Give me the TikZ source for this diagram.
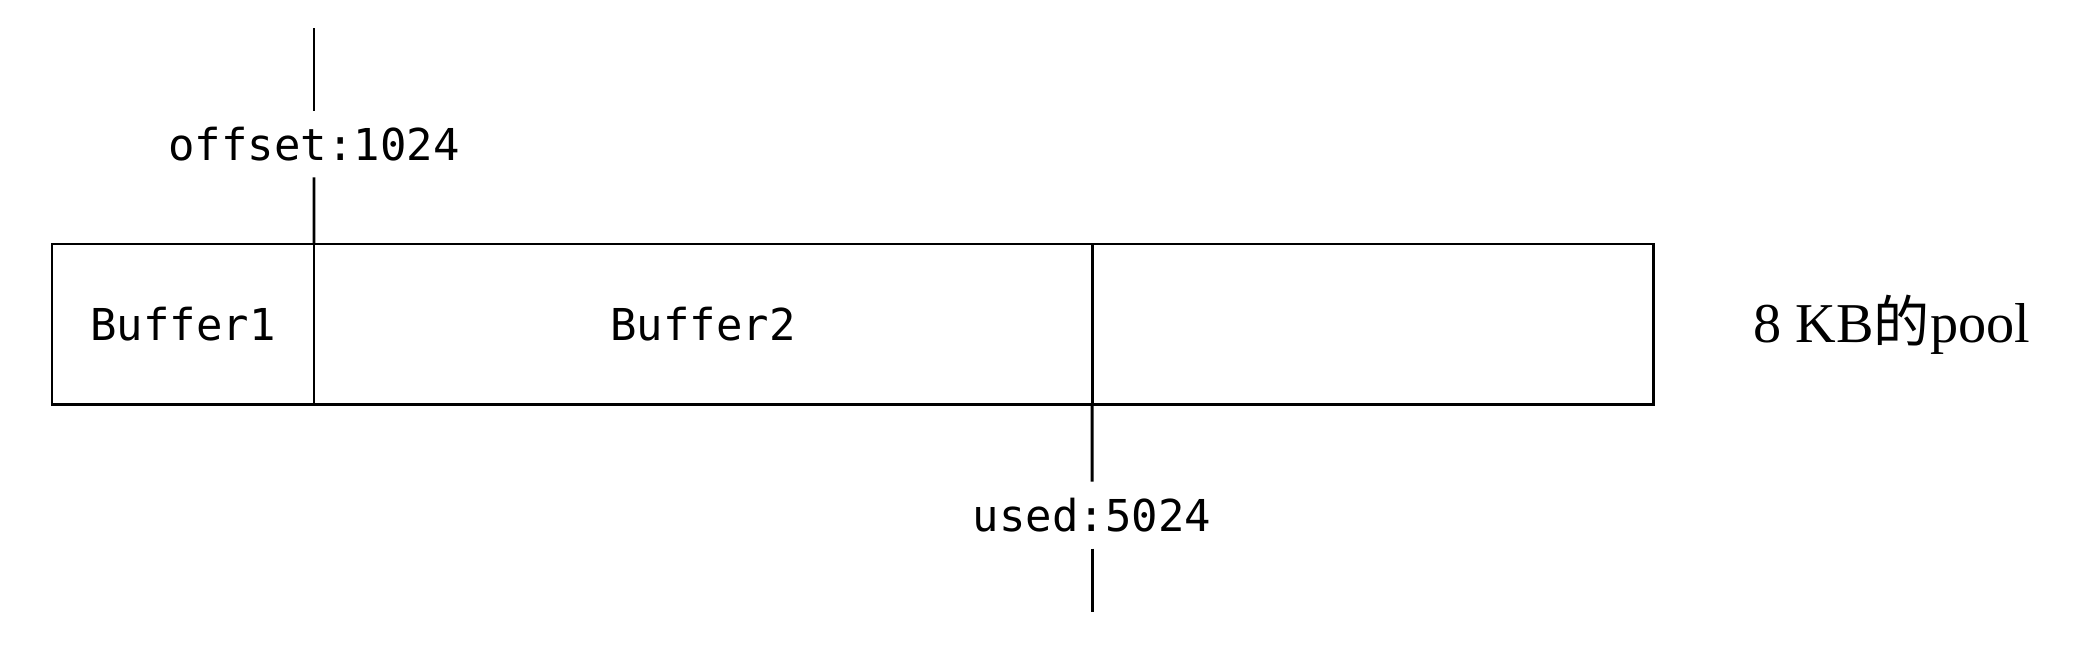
\documentclass[tikz,border=0pt]{standalone}
\usepackage{fontspec}
\setmainfont{Liberation Serif}
\setmonofont{DejaVu Sans Mono}
\newfontfamily\cjk{Noto Sans CJK SC}
\usetikzlibrary{positioning}

\begin{document}
\begin{tikzpicture}[line width=0.85pt]
\tikzstyle{every node}=[font=\ttfamily\fontsize{12.5}{15}\selectfont]
\tikzstyle{cell}=[draw,minimum height=1.6cm,inner sep=0pt,outer sep=0pt]
\tikzstyle{ptrlabel}=[inner sep=0pt,minimum height=0.64cm]
\useasboundingbox (0,0) rectangle (20.84,6.66);

\node[cell,minimum width=2.62cm] (b1) at (1.83,3.42) {Buffer1};
\node[cell,minimum width=7.78cm,right=0pt of b1] (b2) {Buffer2};
\node[cell,minimum width=5.61cm,right=0pt of b2] (b3) {};

\node[inner sep=0pt,anchor=base west] (pool) at (17.52,3.24)
  {\rmfamily\fontsize{16}{19}\selectfont 8 KB{\cjk 的}pool};

\node[ptrlabel] (off) at (3.14,5.22) {offset:1024};
\node[ptrlabel] (used) at (10.92,1.51) {used:5024};

\coordinate (otop) at (3.14,6.38);
\coordinate (ubot) at (10.92,0.54);

\draw (otop) -- (off.north);
\draw (off.south) -- (b1.north east);
\draw (b2.south east) -- (used.north);
\draw (used.south) -- (ubot);

%\draw[black!10,thin,step=1cm] (0,0) grid (21,7);

\end{tikzpicture}
\end{document}
